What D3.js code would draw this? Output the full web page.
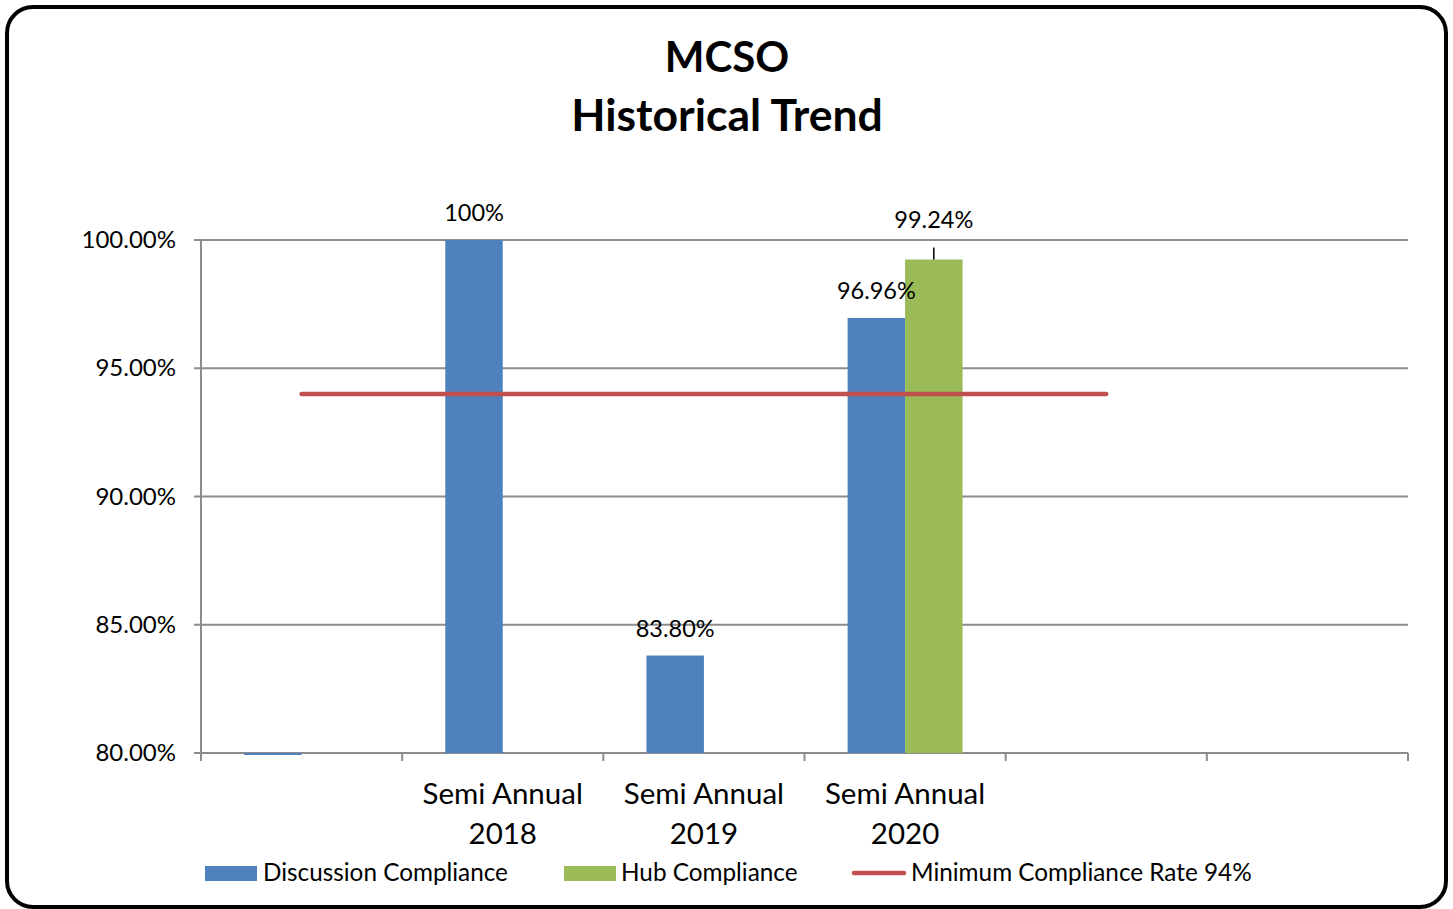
<!DOCTYPE html>
<html>
<head>
<meta charset="utf-8">
<script src="https://cdn.jsdelivr.net/npm/d3@7"></script>
<style>
  body { margin: 0; background: #fff; }
  text { font-family: Lato, "Open Sans", sans-serif; fill: #000; }
</style>
</head>
<body>
<div id="chart"></div>
<script>
// chart data
const categoryLabels = ['', 'Semi Annual 2018', 'Semi Annual 2019', 'Semi Annual 2020', '', ''];
const discussion = [0, 100, 83.80, 96.96, null, null];
const discussionLabels = [null, '100%', '83.80%', '96.96%', null, null];
const hub = [null, null, null, 99.24, null, null];
const hubLabels = [null, null, null, '99.24%', null, null];
const minimumRate = [94, 94, 94, 94, 94, null];
const yTicks = [80, 85, 90, 95, 100];
const seriesNames = ['Discussion Compliance', 'Hub Compliance'];
const lineName = 'Minimum Compliance Rate 94%';

const width = 1453;
const height = 909;
const margin = { top: 240, right: 45, bottom: 156, left: 201 };

const blue = '#4F81BD';
const green = '#9BBB59';
const red = '#C0504D';
const grid = '#8C8C8C';

const svg = d3.select('#chart')
    .append('svg')
    .attr('width', width)
    .attr('height', height);

// frame
svg.append('rect')
    .attr('x', 7)
    .attr('y', 7)
    .attr('width', 1439)
    .attr('height', 900)
    .attr('rx', 26)
    .attr('fill', '#fff')
    .attr('stroke', '#000')
    .attr('stroke-width', 4);

// title
svg.append('text')
    .attr('x', 727)
    .attr('y', 72)
    .attr('text-anchor', 'middle')
    .attr('font-size', 42)
    .attr('font-weight', 'bold')
    .text('MCSO');

svg.append('text')
    .attr('x', 727)
    .attr('y', 131)
    .attr('text-anchor', 'middle')
    .attr('font-size', 44.5)
    .attr('font-weight', 'bold')
    .text('Historical Trend');

const idx = categoryLabels.map((d, i) => i);

const x = d3.scaleBand()
    .domain(idx)
    .range([margin.left, width - margin.right])
    .padding(0);

const xSub = d3.scaleBand()
    .domain(seriesNames)
    .range([0, x.bandwidth()])
    .paddingInner(0)
    .paddingOuter(0.75);

const y = d3.scaleLinear()
    .domain([80, 100])
    .range([height - margin.bottom, margin.top])
    .clamp(true);

// gridlines
svg.append('g')
    .selectAll('line')
    .data(yTicks)
    .enter().append('line')
    .attr('x1', margin.left - 7)
    .attr('x2', width - margin.right)
    .attr('y1', d => y(d))
    .attr('y2', d => y(d))
    .attr('stroke', grid)
    .attr('stroke-width', 2);

// y labels
svg.append('g')
    .selectAll('text')
    .data(yTicks)
    .enter().append('text')
    .attr('x', 176)
    .attr('y', d => y(d) + 8)
    .attr('text-anchor', 'end')
    .attr('font-size', 24)
    .text(d => d.toFixed(2) + '%');

// left axis line
svg.append('line')
    .attr('x1', margin.left)
    .attr('x2', margin.left)
    .attr('y1', y(100))
    .attr('y2', y(80) + 8)
    .attr('stroke', grid)
    .attr('stroke-width', 2);

// bottom ticks at category boundaries
const bounds = idx.map(i => x(i)).concat([x(idx[idx.length - 1]) + x.bandwidth()]);
svg.append('g')
    .selectAll('line')
    .data(bounds)
    .enter().append('line')
    .attr('x1', d => d)
    .attr('x2', d => d)
    .attr('y1', y(80))
    .attr('y2', y(80) + 8)
    .attr('stroke', grid)
    .attr('stroke-width', 2);

// bars
function drawBars(values, name, color) {
    svg.append('g')
        .selectAll('rect')
        .data(values.map((v, i) => ({ v, i })).filter(d => d.v !== null))
        .enter().append('rect')
        .attr('x', d => x(d.i) + xSub(name))
        .attr('width', xSub.bandwidth())
        .attr('y', d => d.v <= 80 ? y(80) : y(d.v))
        .attr('height', d => d.v <= 80 ? 2 : y(80) - y(d.v))
        .attr('fill', color);
}
drawBars(discussion, seriesNames[0], blue);
drawBars(hub, seriesNames[1], green);

// data labels
function drawLabels(values, labels, name, lift) {
    const items = values.map((v, i) => ({ v, i, t: labels[i] })).filter(d => d.t);
    const cx = d => x(d.i) + xSub(name) + xSub.bandwidth() / 2;
    svg.append('g')
        .selectAll('text')
        .data(items)
        .enter().append('text')
        .attr('x', cx)
        .attr('y', d => y(d.v) - 19 - lift)
        .attr('text-anchor', 'middle')
        .attr('font-size', 23.5)
        .text(d => d.t);
    if (lift > 0) {
        svg.append('g')
            .selectAll('line')
            .data(items)
            .enter().append('line')
            .attr('x1', cx)
            .attr('x2', cx)
            .attr('y1', d => y(d.v) - lift)
            .attr('y2', d => y(d.v))
            .attr('stroke', '#000')
            .attr('stroke-width', 1.5);
    }
}
drawLabels(discussion, discussionLabels, seriesNames[0], 0);
drawLabels(hub, hubLabels, seriesNames[1], 12);

// minimum compliance line
const line = d3.line()
    .defined(d => d.v !== null)
    .x(d => x(d.i) + x.bandwidth() / 2)
    .y(d => y(d.v));

svg.append('path')
    .datum(minimumRate.map((v, i) => ({ v, i })))
    .attr('d', line)
    .attr('fill', 'none')
    .attr('stroke', red)
    .attr('stroke-width', 4.5)
    .attr('stroke-linecap', 'round');

// category labels
const catText = svg.append('g')
    .selectAll('text')
    .data(idx.filter(i => categoryLabels[i]))
    .enter().append('text')
    .attr('text-anchor', 'middle')
    .attr('font-size', 29.5);

catText.append('tspan')
    .attr('x', i => x(i) + x.bandwidth() / 2)
    .attr('y', 804)
    .text(i => categoryLabels[i].split(' ').slice(0, 2).join(' '));

catText.append('tspan')
    .attr('x', i => x(i) + x.bandwidth() / 2)
    .attr('y', 844)
    .text(i => categoryLabels[i].split(' ')[2]);

// legend
const legend = svg.append('g');

legend.append('rect')
    .attr('x', 205).attr('y', 866)
    .attr('width', 52).attr('height', 15)
    .attr('fill', blue);
legend.append('text')
    .attr('x', 263).attr('y', 881)
    .attr('font-size', 24.3)
    .text(seriesNames[0]);

legend.append('rect')
    .attr('x', 564).attr('y', 866)
    .attr('width', 52).attr('height', 15)
    .attr('fill', green);
legend.append('text')
    .attr('x', 621).attr('y', 881)
    .attr('font-size', 24.3)
    .text(seriesNames[1]);

legend.append('line')
    .attr('x1', 854).attr('x2', 904)
    .attr('y1', 873).attr('y2', 873)
    .attr('stroke', red)
    .attr('stroke-width', 4.5)
    .attr('stroke-linecap', 'round');
legend.append('text')
    .attr('x', 911).attr('y', 881)
    .attr('font-size', 24.3)
    .text(lineName);
</script>
</body>
</html>
